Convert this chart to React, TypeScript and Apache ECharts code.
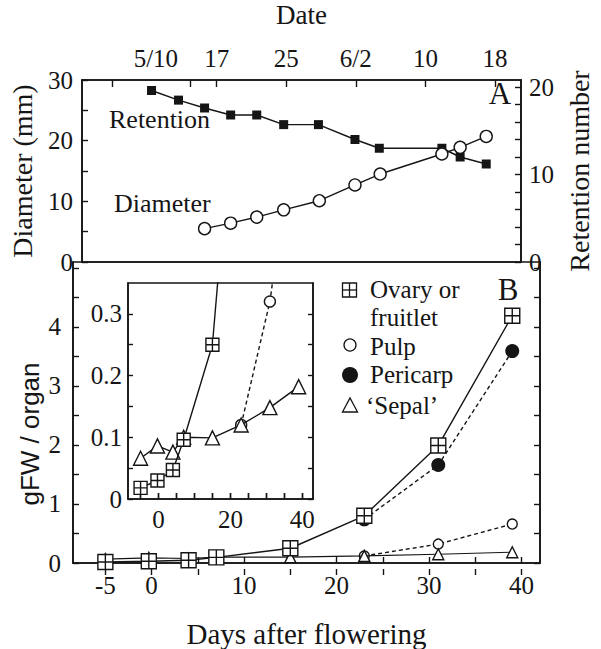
import React, { useEffect, useRef } from 'react';
import * as echarts from 'echarts';

// ---- Panel A data ----
const retentionDays = [-0.5, 2.6, 5.6, 8.6, 11.6, 14.7, 18.7, 22.9, 25.7, 32.9, 35, 38];
const retention = [19.6, 18.5, 17.6, 16.8, 16.8, 15.7, 15.7, 14, 13, 13, 12, 11.2];
const diameterDays = [5.6, 8.6, 11.6, 14.7, 18.8, 22.9, 25.8, 32.9, 35, 38];
const diameter = [5.5, 6.4, 7.4, 8.6, 10.1, 12.7, 14.5, 17.8, 18.9, 20.7];

// ---- Panel B data ----
const organDays = [-5, -0.3, 4, 7, 15, 23, 31, 39];
const ovary = [0.018, 0.03, 0.047, 0.096, 0.25, 0.8, 1.99, 4.19];
const sepal = [0.066, 0.086, 0.076, 0.1, 0.099, 0.12, 0.148, 0.182];
const fruitDays = [23, 31, 39];
const pulp = [0.12, 0.32, 0.66];
const pericarp = [0.74, 1.66, 3.59];

// ---- Axis ticks / labels ----
const dateLabelDays = [0, 7, 15, 23, 31, 39];
const dateLabels = ['5/10', '17', '25', '6/2', '10', '18'];
const dateTickDays = [-5, 4, 7, 15, 23, 31, 39];
const dayTicks = [-5, 0, 5, 10, 15, 20, 25, 30, 35, 40];
const dayLabels = [-5, 0, 10, 20, 30, 40];
const diameterTicks = [0, 5, 10, 15, 20, 25, 30];
const diameterLabels = [0, 10, 20, 30];
const retentionTicks = [0, 2, 4, 6, 8, 10, 12, 14, 16, 18, 20];
const retentionLabels = [0, 10, 20];
const gfwTicks = [0, 0.5, 1, 1.5, 2, 2.5, 3, 3.5, 4, 4.5, 5];
const gfwLabels = [0, 1, 2, 3, 4];
const insetYTicks = [0, 0.05, 0.1, 0.15, 0.2, 0.25, 0.3];
const insetYLabels = [0, 0.1, 0.2, 0.3];
const insetXTicks = [-5, 0, 5, 10, 15, 20, 25, 30, 35, 40];
const insetXLabels = [0, 20, 40];

const SERIF = 'Liberation Serif';
const SANS = 'Liberation Sans';
const INK = '#151515';

const pts = (xs: number[], ys: number[]) => xs.map((x, i) => [x, ys[i]]);

const ovarySymbol = 'path://M0,0L20,0L20,20L0,20Z M10,0L10,20 M0,10L20,10';

const tickStyle = { show: true, inside: true, length: 6, lineStyle: { color: INK, width: 1.4 } };
const labelFont = { fontFamily: SERIF, fontSize: 25, color: INK };
const axLine = { show: true, onZero: false, lineStyle: { color: INK, width: 1.6 } };

function App() {
  const ref = useRef<HTMLDivElement>(null);
  useEffect(() => {
    if (!ref.current) return;
    const chart = echarts.init(ref.current, null, { renderer: 'svg' });
    const openItem = { color: '#fff', borderColor: INK, borderWidth: 1.4 };
    const solid = { color: INK, width: 1.4 };
    const dashed = { color: INK, width: 1.4, type: [4, 3] as any };
    const txt = (text: string, x: number, y: number, size = 26, extra: any = {}) => ({
      type: 'text', x, y, z: 20,
      style: { text, fontFamily: SERIF, fontSize: size, fill: INK, verticalAlign: 'middle', ...extra },
    });

    const option: any = {
      animation: false,
      backgroundColor: '#fff',
      textStyle: { fontFamily: SERIF },
      grid: [
        { left: 73, top: 67, width: 467, height: 195, show: true, borderColor: INK, borderWidth: 1.6, backgroundColor: 'transparent' },
        { left: 73, top: 262, width: 467, height: 313, show: true, borderColor: INK, borderWidth: 1.6, backgroundColor: 'transparent' },
        { left: 128, top: 283, width: 185, height: 216, show: true, borderColor: INK, borderWidth: 1.5, backgroundColor: '#fff' },
      ],
      xAxis: [
        {
          gridIndex: 0, type: 'value', position: 'top', min: -8.5, max: 42,
          name: 'Date', nameLocation: 'middle', nameGap: 52,
          nameTextStyle: { fontFamily: SERIF, fontSize: 27, color: INK },
          axisLine: axLine, splitLine: { show: false },
          axisTick: { ...tickStyle, length: 7, customValues: dateTickDays },
          axisLabel: {
            ...labelFont, margin: 9, customValues: dateLabelDays,
            formatter: (v: number) => { const i = dateLabelDays.indexOf(v); return i >= 0 ? dateLabels[i] : ''; },
          },
        },
        {
          gridIndex: 1, type: 'value', position: 'bottom', min: -8.5, max: 42,
          name: 'Days after flowering', nameLocation: 'middle', nameGap: 56,
          nameTextStyle: { fontFamily: SERIF, fontSize: 29, color: INK },
          axisLine: axLine, splitLine: { show: false },
          axisTick: { ...tickStyle, customValues: dayTicks },
          axisLabel: { ...labelFont, margin: 10, customValues: dayLabels },
        },
        {
          gridIndex: 2, type: 'value', position: 'bottom', min: -8.5, max: 43,
          axisLine: axLine, splitLine: { show: false },
          axisTick: { ...tickStyle, customValues: insetXTicks },
          axisLabel: { ...labelFont, fontSize: 25, margin: 8, customValues: insetXLabels },
        },
        // tick-only companions placed on the bottom edges (ticks pointing into the panels)
        {
          gridIndex: 1, type: 'value', position: 'top', offset: -313, min: -8.5, max: 42,
          axisLine: { show: false, onZero: false }, splitLine: { show: false },
          axisTick: { ...tickStyle, inside: false, customValues: dayTicks },
          axisLabel: { show: false },
        },
        {
          gridIndex: 2, type: 'value', position: 'top', offset: -216, min: -8.5, max: 43,
          axisLine: { show: false, onZero: false }, splitLine: { show: false },
          axisTick: { ...tickStyle, inside: false, customValues: insetXTicks },
          axisLabel: { show: false },
        },
      ],
      yAxis: [
        {
          gridIndex: 0, type: 'value', position: 'left', min: 0, max: 30,
          name: 'Diameter (mm)', nameLocation: 'middle', nameGap: 46, nameRotate: 90,
          nameTextStyle: { fontFamily: SERIF, fontSize: 28, color: INK },
          axisLine: axLine, splitLine: { show: false },
          axisTick: { ...tickStyle, customValues: diameterTicks },
          axisLabel: { ...labelFont, margin: 9, padding: [14, 0, 0, 0], customValues: diameterLabels },
        },
        {
          gridIndex: 0, type: 'value', position: 'right', min: 0, max: 20.8,
          name: 'Retention number', nameLocation: 'middle', nameGap: 44, nameRotate: 90,
          nameTextStyle: { fontFamily: SERIF, fontSize: 28, color: INK },
          axisLine: axLine, splitLine: { show: false },
          axisTick: { ...tickStyle, customValues: retentionTicks },
          axisLabel: { ...labelFont, margin: 8, padding: [6, 0, 0, 0], customValues: retentionLabels },
        },
        {
          gridIndex: 1, type: 'value', position: 'left', min: 0, max: 5.1,
          axisLine: axLine, splitLine: { show: false },
          axisTick: { ...tickStyle, customValues: gfwTicks },
          axisLabel: { ...labelFont, margin: 12, customValues: gfwLabels },
        },
        {
          gridIndex: 1, type: 'value', position: 'right', min: 0, max: 5.1,
          axisLine: axLine, splitLine: { show: false },
          axisTick: { ...tickStyle, customValues: gfwTicks },
          axisLabel: { show: false },
        },
        {
          gridIndex: 2, type: 'value', position: 'left', min: 0, max: 0.35,
          axisLine: axLine, splitLine: { show: false },
          axisTick: { ...tickStyle, length: 5, customValues: insetYTicks },
          axisLabel: { ...labelFont, margin: 6, customValues: insetYLabels },
        },
        {
          gridIndex: 2, type: 'value', position: 'right', min: 0, max: 0.35,
          axisLine: axLine, splitLine: { show: false },
          axisTick: { ...tickStyle, length: 5, customValues: insetYTicks },
          axisLabel: { show: false },
        },
      ],
      series: [
        {
          name: 'Retention', type: 'line', xAxisIndex: 0, yAxisIndex: 1,
          data: pts(retentionDays, retention), symbol: 'rect', symbolSize: 9,
          itemStyle: { color: INK }, lineStyle: solid, z: 3,
        },
        {
          name: 'Diameter', type: 'line', xAxisIndex: 0, yAxisIndex: 0,
          data: pts(diameterDays, diameter), symbol: 'circle', symbolSize: 12,
          itemStyle: openItem, lineStyle: solid, z: 4,
        },
        {
          name: 'Pericarp', type: 'line', xAxisIndex: 1, yAxisIndex: 2,
          data: pts(fruitDays, pericarp), symbol: 'circle', symbolSize: 14,
          itemStyle: { color: INK }, lineStyle: dashed, z: 2,
        },
        {
          name: 'Pulp', type: 'line', xAxisIndex: 1, yAxisIndex: 2,
          data: pts(fruitDays, pulp), symbol: 'circle', symbolSize: 10,
          itemStyle: openItem, lineStyle: dashed, z: 3,
        },
        {
          name: "'Sepal'", type: 'line', xAxisIndex: 1, yAxisIndex: 2,
          data: pts(organDays, sepal), symbol: 'triangle', symbolSize: 11,
          itemStyle: openItem, lineStyle: { ...solid, width: 1.1 }, z: 4,
        },
        {
          name: 'Ovary or fruitlet', type: 'line', xAxisIndex: 1, yAxisIndex: 2,
          data: pts(organDays, ovary), symbol: ovarySymbol, symbolSize: 15,
          itemStyle: openItem, lineStyle: solid, z: 5,
        },
        {
          name: 'Pulp inset', type: 'line', xAxisIndex: 2, yAxisIndex: 4,
          data: pts(fruitDays, pulp), symbol: 'circle', symbolSize: 11,
          itemStyle: openItem, lineStyle: dashed, z: 6,
        },
        {
          name: 'Sepal inset', type: 'line', xAxisIndex: 2, yAxisIndex: 4,
          data: pts(organDays, sepal), symbol: 'triangle', symbolSize: 14,
          itemStyle: openItem, lineStyle: solid, z: 7,
        },
        {
          name: 'Ovary inset', type: 'line', xAxisIndex: 2, yAxisIndex: 4,
          data: pts(organDays, ovary), symbol: ovarySymbol, symbolSize: 13,
          itemStyle: openItem, lineStyle: solid, z: 8,
        },
      ],
      graphic: [
        txt('Retention', 109, 119),
        txt('Diameter', 114, 203),
        txt('A', 500, 93, 31, { align: 'center' }),
        txt('B', 508, 289, 31, { align: 'center' }),
        {
          type: 'text', x: 30, y: 434, rotation: Math.PI / 2,
          style: { text: 'gFW / organ', fontFamily: SANS, fontSize: 26, fill: INK, align: 'center', verticalAlign: 'middle' },
        },
        {
          type: 'group', x: 349.5, y: 290, z: 20,
          children: [
            { type: 'rect', shape: { x: -7, y: -7, width: 14, height: 14 }, style: { fill: '#fff', stroke: INK, lineWidth: 1.3 } },
            { type: 'line', shape: { x1: 0, y1: -7, x2: 0, y2: 7 }, style: { stroke: INK, lineWidth: 1.3 } },
            { type: 'line', shape: { x1: -7, y1: 0, x2: 7, y2: 0 }, style: { stroke: INK, lineWidth: 1.3 } },
          ],
        },
        { type: 'circle', z: 20, shape: { cx: 350, cy: 345, r: 6 }, style: { fill: '#fff', stroke: INK, lineWidth: 1.3 } },
        { type: 'circle', z: 20, shape: { cx: 350, cy: 375, r: 8 }, style: { fill: INK } },
        { type: 'polygon', z: 20, shape: { points: [[342.5, 412], [357.5, 412], [350, 398]] }, style: { fill: '#fff', stroke: INK, lineWidth: 1.3 } },
        txt('Ovary or', 370, 289, 25),
        txt('fruitlet', 370, 317, 25),
        txt('Pulp', 370, 346, 25),
        txt('Pericarp', 370, 374, 25),
        txt('\u2018Sepal\u2019', 366, 405, 25),
      ],
    };
    chart.setOption(option);
    return () => chart.dispose();
  }, []);
  return (
    <div
      ref={ref}
      style={{ position: 'fixed', left: 0, top: 0, width: 601, height: 649, background: '#fff' }}
    />
  );
}

export default App;
